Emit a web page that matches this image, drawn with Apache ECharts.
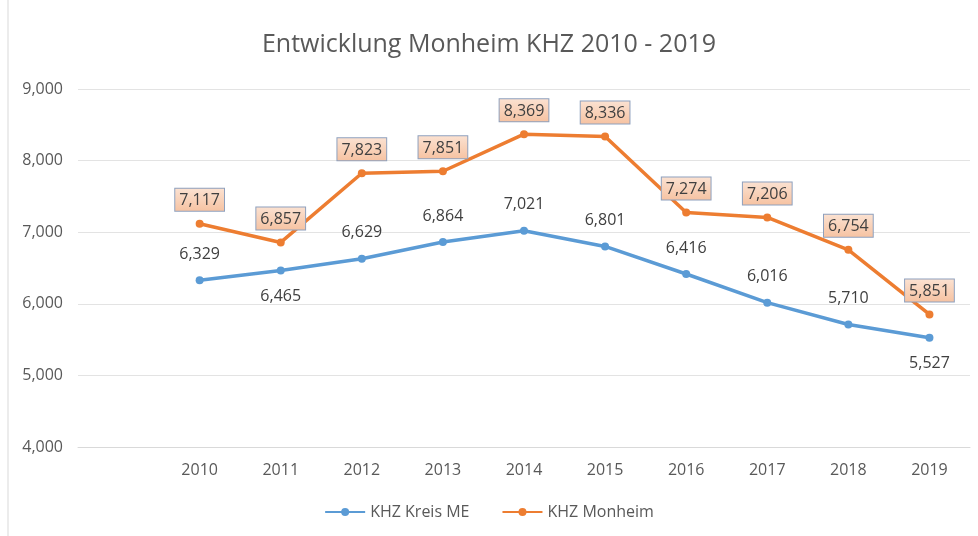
<!DOCTYPE html>
<html>
<head>
<meta charset="utf-8">
<script src="https://cdn.jsdelivr.net/npm/echarts@6/dist/echarts.min.js"></script>
<style>
    html, body { margin: 0; padding: 0; background: #fff; }
    #chart { width: 978px; height: 536px; }
</style>
</head>
<body>
<div id="chart"></div>
<script>
    // leading empty slot, like the original Excel chart
    var years = ['', '2010', '2011', '2012', '2013', '2014', '2015', '2016', '2017', '2018', '2019'];
    var kreisME = [null, 6329, 6465, 6629, 6864, 7021, 6801, 6416, 6016, 5710, 5527];
    var monheim = [null, 7117, 6857, 7823, 7851, 8369, 8336, 7274, 7206, 6754, 5851];
    var yTicks = [4000, 5000, 6000, 7000, 8000, 9000];

    var font = '"Open Sans", sans-serif';
    var blueBelow = [2, 10]; // labels placed under the point

    function fmt(v) {
        return Number(v).toLocaleString('en-US');
    }

    var chart = echarts.init(document.getElementById('chart'));
    chart.setOption({
        animation: false,
        title: {
            text: 'Entwicklung Monheim KHZ 2010 - 2019',
            left: 'center',
            top: 27,
            textStyle: { fontFamily: font, fontSize: 25, fontWeight: 'normal', color: '#595959' }
        },
        legend: {
            bottom: 11,
            left: 'center',
            itemWidth: 40,
            itemHeight: 10,
            itemGap: 32,
            textStyle: { fontFamily: font, fontSize: 16, color: '#595959' },
            data: ['KHZ Kreis ME', 'KHZ Monheim']
        },
        grid: { left: 78, right: 8, top: 89, bottom: 89 },
        xAxis: {
            type: 'category',
            data: years,
            boundaryGap: true,
            axisLine: { lineStyle: { color: '#d9d9d9' } },
            axisTick: { show: false },
            axisLabel: { fontFamily: font, fontSize: 16, color: '#595959', margin: 15 }
        },
        yAxis: {
            type: 'value',
            min: yTicks[0],
            max: yTicks[yTicks.length - 1],
            interval: 1000,
            axisLine: { show: false },
            axisTick: { show: false },
            splitLine: { lineStyle: { color: '#e3e3e3' } },
            axisLabel: { fontFamily: font, fontSize: 16, color: '#595959', margin: 15, formatter: fmt }
        },
        series: [
            {
                name: 'KHZ Kreis ME',
                type: 'line',
                color: '#5B9BD5',
                symbol: 'circle',
                symbolSize: 8,
                lineStyle: { width: 3.5 },
                data: kreisME.map(function (v, i) {
                    if (blueBelow.indexOf(i) >= 0) {
                        return { value: v, label: { position: 'bottom', distance: 14 } };
                    }
                    return v;
                }),
                label: {
                    show: true,
                    position: 'top',
                    distance: 14,
                    fontFamily: font,
                    fontSize: 16,
                    color: '#404040',
                    formatter: function (p) { return fmt(p.value); }
                }
            },
            {
                name: 'KHZ Monheim',
                type: 'line',
                color: '#ED7D31',
                symbol: 'circle',
                symbolSize: 8,
                lineStyle: { width: 3.5 },
                data: monheim,
                label: {
                    show: true,
                    position: 'top',
                    distance: 9,
                    fontFamily: font,
                    fontSize: 16,
                    color: '#404040',
                    padding: [4, 4, 2, 4],
                    borderColor: '#8ea0bd',
                    borderWidth: 1,
                    backgroundColor: {
                        type: 'linear', x: 0, y: 0, x2: 0, y2: 1,
                        colorStops: [
                            { offset: 0, color: '#fbe2d2' },
                            { offset: 1, color: '#f6c2a1' }
                        ]
                    },
                    formatter: function (p) { return fmt(p.value); }
                }
            }
        ],
        graphic: [
            { type: 'line', shape: { x1: 8, y1: 0, x2: 8, y2: 536 }, style: { stroke: '#d9d9d9', lineWidth: 1 } }
        ]
    });
</script>
</body>
</html>
